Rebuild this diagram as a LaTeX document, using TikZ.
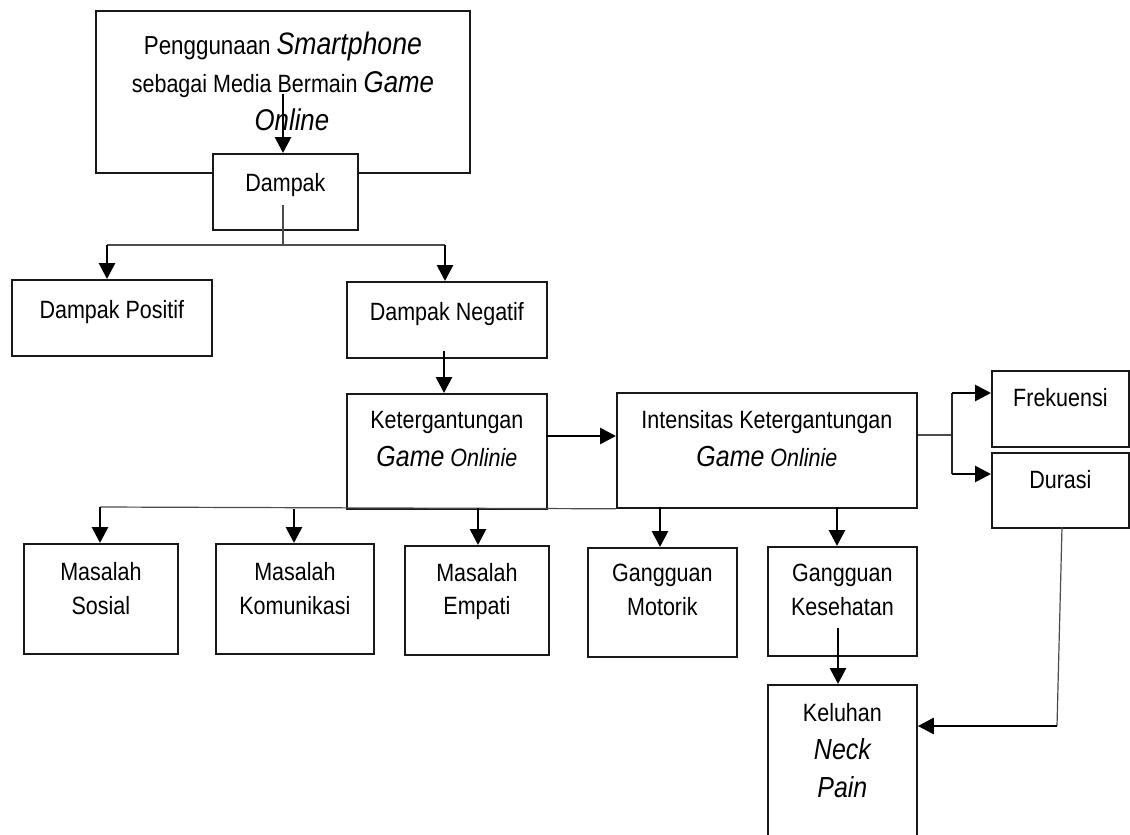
\documentclass[tikz,border=0pt]{standalone}
\usepackage{fontspec}
\setmainfont[FakeStretch=0.86]{Liberation Sans}
\usetikzlibrary{arrows.meta}
\newcommand{\bxt}[5]{\parbox[c][#2pt][t]{#1pt}{\centering\fontsize{25}{#4pt}\selectfont\vspace*{#3pt}#5\par}}
\newcommand{\BigIt}[1]{{\fontsize{29}{38}\selectfont\itshape #1}}
\newcommand{\SmIt}[1]{{\itshape #1}}
\begin{document}
\begin{tikzpicture}[x=1pt,y=-1pt,
  bx/.style={draw=black!90, line width=1.8pt, inner sep=0pt, anchor=north west, fill=white},
  arr/.style={line width=2.8pt, -{Triangle[length=16pt,width=16pt]}},
  thinl/.style={line width=1.2pt, draw=black!70},
  midl/.style={line width=1.6pt, draw=black!85}]
\clip (0,0) rectangle (1130,835);
\fill[white] (0,0) rectangle (1130,835);
% boxes
\node[bx] (top) at (95,10) {\bxt{374}{162}{21.5}{38}{{\fontsize{26}{38}\selectfont Penggunaan} {\fontsize{31}{38}\selectfont\itshape Smartphone}\\ sebagai Media Bermain {\fontsize{30}{38}\selectfont\itshape Game}\\ \hspace*{18pt}{\fontsize{30}{38}\selectfont\itshape Online}}};
\node[bx] (dampak) at (212,153) {\bxt{145}{76}{19.1}{32}{Dampak}};
\node[bx] (pos) at (11,279) {\bxt{200}{76}{20.1}{32}{Dampak Positif}};
\node[bx] (neg) at (346,281) {\bxt{200}{76}{20.1}{32}{Dampak Negatif}};
\node[bx] (ket) at (346,393) {\bxt{200}{115}{17.1}{38.5}{Ketergantungan\\ \BigIt{Game} \SmIt{Onlinie}}};
\node[bx] (int) at (616,392) {\bxt{300}{115}{17.1}{38}{Intensitas Ketergantungan\\ \BigIt{Game} \SmIt{Onlinie}}};
\node[bx] (frek) at (991,370) {\bxt{137}{76}{17.8}{32}{Frekuensi}};
\node[bx] (dur) at (991,452) {\bxt{137}{75}{17.8}{32}{Durasi}};
\node[bx] (sos) at (23,543) {\bxt{154}{110}{18.4}{33.7}{Masalah\\ Sosial}};
\node[bx] (kom) at (215,543) {\bxt{158}{110}{18.4}{33.7}{Masalah\\ Komunikasi}};
\node[bx] (emp) at (404,545) {\bxt{144}{109}{17.8}{33}{Masalah\\ Empati}};
\node[bx] (mot) at (587,547) {\bxt{149}{109}{16.6}{33.3}{Gangguan\\ Motorik}};
\node[bx] (kes) at (767,546) {\bxt{149}{109}{17.6}{33.3}{Gangguan\\ Kesehatan}};
\node[bx] (kel) at (767,684) {\bxt{149}{180}{18.1}{38}{Keluhan\\ \BigIt{Neck}\\ \BigIt{Pain}}};
% coordinates
\coordinate (tsrc) at (283,94);
\coordinate (dsrc) at (283,205);
\coordinate (bar1) at (283,245);
\coordinate (barL) at (107,245);
\coordinate (barR) at (445,245);
\coordinate (nsrc) at (444,351);
\coordinate (k2i) at (546,436);
\coordinate (ibr) at (952,435);
\coordinate (fy) at (952,393);
\coordinate (dy) at (952,474);
\coordinate (bbL) at (100,507);
\coordinate (kb) at (294,509);
\coordinate (eb) at (478,508);
\coordinate (mb) at (660,507);
\coordinate (hb) at (837,507);
\coordinate (ksrc) at (838,628);
\coordinate (dbot) at (1062,527);
\coordinate (dk) at (1057,726);
% connectors
\draw[arr] (tsrc) -- (tsrc |- dampak.north);
\draw[thinl] (dsrc) -- (bar1);
\draw[thinl] (barL) -- (barR);
\draw[arr] (barL) -- (barL |- pos.north);
\draw[arr] (barR) -- (barR |- neg.north);
\draw[arr] (nsrc) -- (nsrc |- ket.north);
\draw[arr] (k2i) -- (k2i -| int.west);
\draw[thinl] (int.east |- ibr) -- (ibr);
\draw[midl] (fy) -- (dy);
\draw[arr] (fy) -- (fy -| frek.west);
\draw[arr] (dy) -- (dy -| dur.west);
\draw[thinl] (bbL) -- (int.south west);
\draw[arr] (bbL) -- (bbL |- sos.north);
\draw[arr] (kb) -- (kb |- kom.north);
\draw[arr] (eb) -- (eb |- emp.north);
\draw[arr] (mb) -- (mb |- mot.north);
\draw[arr] (hb) -- (hb |- kes.north);
\draw[arr] (ksrc) -- (ksrc |- kel.north);
\draw[thinl] (dbot) -- (dk);
\draw[arr] (dk) -- (dk -| kel.east);
\end{tikzpicture}
\end{document}
